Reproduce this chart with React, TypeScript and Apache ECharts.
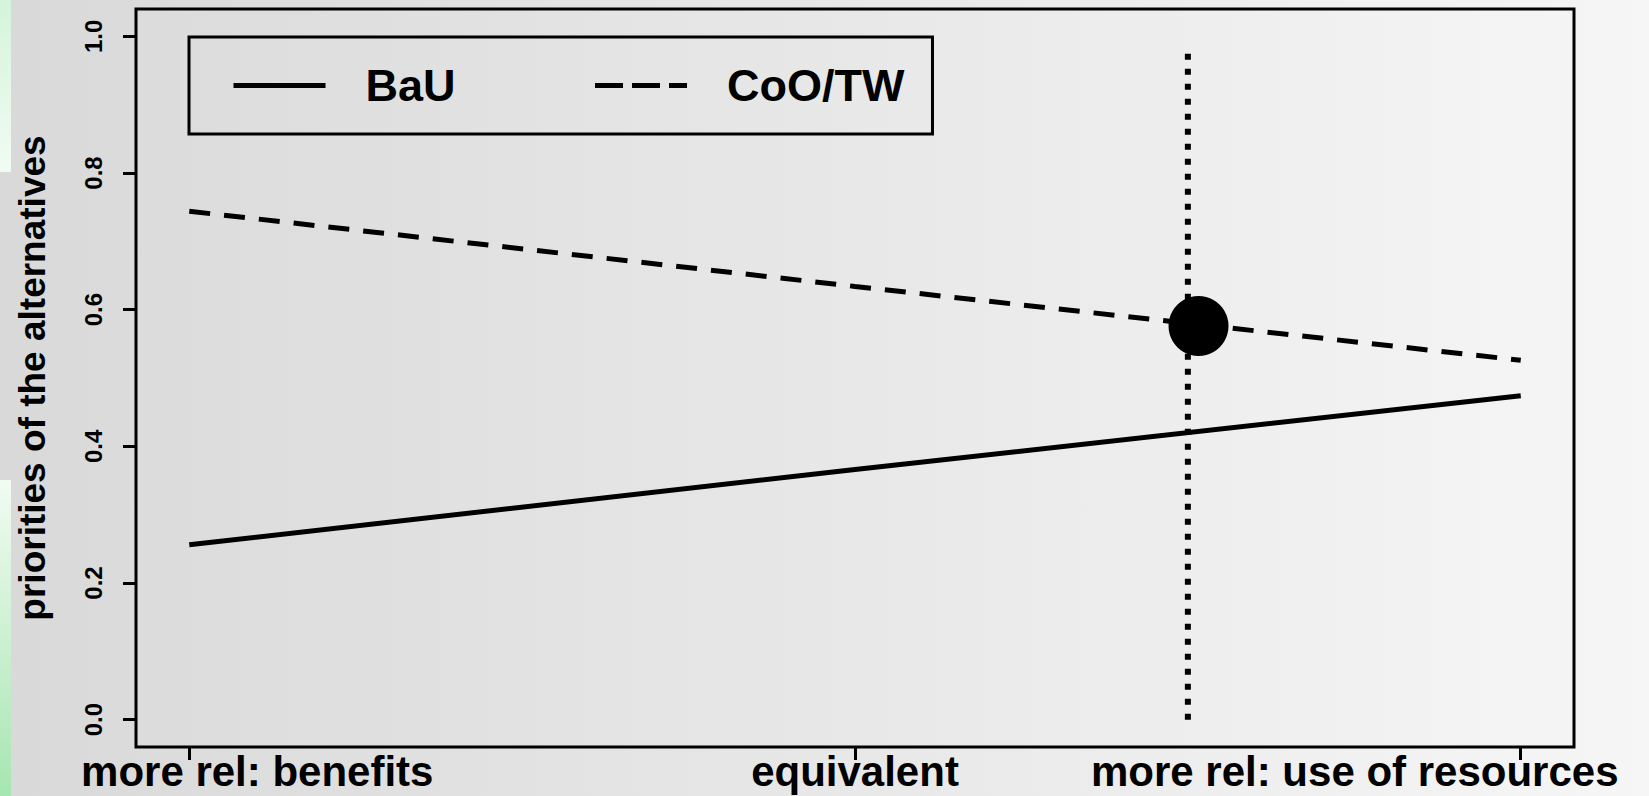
import React, { useEffect, useRef } from "react";
import * as echarts from "echarts";

// ---- data ----
const categories = ["more rel: benefits", "equivalent", "more rel: use of resources"];
const xPositions = [0, 1, 2];
const bauValues = [0.256, 0.366, 0.474];
const cooValues = [0.744, 0.634, 0.526];
const yTicks = [0, 0.2, 0.4, 0.6, 0.8, 1.0];
const thresholdX = 1.5;
const thresholdRange = [0, 0.985];
const switchPoint = [1.516, 0.576];
const seriesNames = ["BaU", "CoO/TW"];
const yAxisTitle = "priorities of the alternatives";

const FONT = "'Liberation Sans', Arial, Helvetica, sans-serif";

export default function App() {
  const ref = useRef<HTMLDivElement>(null);
  useEffect(() => {
    const chart = echarts.init(ref.current!, null, { renderer: "svg" });
    const labelKeys = ["l", "m", "r"];
    const richBase = { fontSize: 42, fontWeight: "bold", fontFamily: FONT, color: "#000", lineHeight: 40 };
    chart.setOption({
      animation: false,
      backgroundColor: "transparent",
      textStyle: { fontFamily: FONT },
      graphic: [
        {
          type: "rect",
          shape: { x: 0, y: 0, width: 11, height: 172 },
          style: {
            fill: new echarts.graphic.LinearGradient(0, 0, 0, 1, [
              { offset: 0, color: "#d4f4db" },
              { offset: 1, color: "#f2fbf3" },
            ]),
          },
          silent: true,
        },
        {
          type: "rect",
          shape: { x: 0, y: 480, width: 11, height: 316 },
          style: {
            fill: new echarts.graphic.LinearGradient(0, 0, 0, 1, [
              { offset: 0, color: "#f1fbf2" },
              { offset: 1, color: "#a6e6b1" },
            ]),
          },
          silent: true,
        },
      ],
      grid: {
        left: 136,
        right: 75,
        top: 9,
        bottom: 49,
        show: true,
        borderColor: "#000",
        borderWidth: 3,
        backgroundColor: "transparent",
        containLabel: false,
        outerBoundsMode: "none",
      },
      legend: {
        left: 189,
        top: 37,
        orient: "horizontal",
        data: [
          { name: seriesNames[0] },
          { name: seriesNames[1], lineStyle: { type: [28, 9] } },
        ],
        itemWidth: 92,
        itemHeight: 14,
        itemGap: 137,
        padding: [26, 28, 26, 42],
        borderColor: "#000",
        borderWidth: 3,
        backgroundColor: "transparent",
        selectedMode: false,
        itemStyle: { opacity: 0 },
        lineStyle: { width: 5, color: "#000" },
        textStyle: {
          fontSize: 45,
          fontWeight: "bold",
          fontFamily: FONT,
          color: "#000",
          padding: [0, 0, 0, 35],
        },
      },
      xAxis: {
        type: "value",
        min: -0.08,
        max: 2.08,
        splitLine: { show: false },
        axisLine: { show: false, onZero: false },
        axisTick: {
          show: true,
          customValues: xPositions,
          length: 13,
          lineStyle: { color: "#000", width: 3 },
        },
        axisLabel: {
          customValues: xPositions,
          margin: 4,
          color: "#000",
          fontSize: 42,
          fontWeight: "bold",
          fontFamily: FONT,
          lineHeight: 40,
          formatter: (v: number) => {
            const i = Math.round(v);
            return `{${labelKeys[i]}|${categories[i]}}`;
          },
          rich: {
            l: { ...richBase, padding: [0, 0, 0, 136] },
            m: { ...richBase },
            r: { ...richBase, padding: [0, 332, 0, 0] },
          },
        },
      },
      yAxis: {
        type: "value",
        min: -0.04,
        max: 1.04,
        name: yAxisTitle,
        nameLocation: "middle",
        nameRotate: 90,
        nameGap: 85,
        nameMoveOverlap: false,
        nameTextStyle: { fontSize: 37, fontWeight: "bold", fontFamily: FONT, color: "#000" },
        splitLine: { show: false },
        axisLine: { show: false, onZero: false },
        axisTick: {
          show: true,
          customValues: yTicks,
          length: 13,
          lineStyle: { color: "#000", width: 3 },
        },
        axisLabel: {
          customValues: yTicks,
          rotate: 90,
          margin: 31,
          color: "#000",
          fontSize: 24,
          fontWeight: "bold",
          fontFamily: FONT,
          formatter: (v: number) => v.toFixed(1),
        },
      },
      series: [
        {
          name: seriesNames[0],
          type: "line",
          data: xPositions.map((x, i) => [x, bauValues[i]]),
          symbol: "none",
          lineStyle: { color: "#000", width: 5, type: "solid" },
          itemStyle: { color: "#000" },
          z: 3,
        },
        {
          name: seriesNames[1],
          type: "line",
          data: xPositions.map((x, i) => [x, cooValues[i]]),
          symbol: "none",
          lineStyle: { color: "#000", width: 5, type: [21, 14] },
          itemStyle: { color: "#000" },
          z: 3,
        },
        {
          name: "threshold",
          type: "line",
          data: thresholdRange.map((y) => [thresholdX, y]),
          symbol: "none",
          lineStyle: { color: "#000", width: 6, type: [6, 9] },
          itemStyle: { color: "#000" },
          z: 3,
        },
        {
          name: "switch point",
          type: "scatter",
          data: [switchPoint],
          symbol: "circle",
          symbolSize: 60,
          itemStyle: { color: "#000", opacity: 1 },
          z: 4,
        },
      ],
    });
    return () => chart.dispose();
  }, []);
  return (
    <div
      ref={ref}
      style={{
        position: "fixed",
        left: 0,
        top: 0,
        width: 1649,
        height: 796,
        background: "linear-gradient(to right, #d9d9d9, #f6f6f6)",
      }}
    />
  );
}
